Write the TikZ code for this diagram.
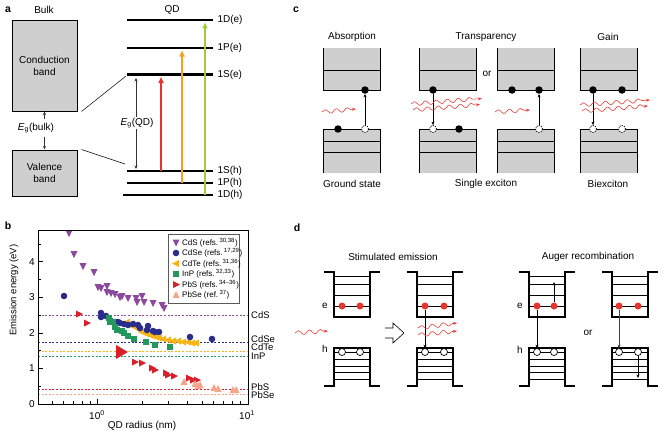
\documentclass[tikz,border=0pt]{standalone}
\usepackage{fontspec}
\setmainfont{Liberation Sans}
\usepackage{tikz}
\usetikzlibrary{arrows.meta}
\usetikzlibrary{decorations.pathmorphing}
\definecolor{bandgray}{HTML}{CFCFCF}
\definecolor{redarr}{HTML}{E8322B}
\definecolor{orangearr}{HTML}{F4A020}
\definecolor{greenarr}{HTML}{A2CC3A}
\definecolor{colCdS}{HTML}{8B4A9E}
\definecolor{colCdSe}{HTML}{2A2C8C}
\definecolor{colCdTe}{HTML}{F6B417}
\definecolor{colInP}{HTML}{23985A}
\definecolor{colPbS}{HTML}{D8202A}
\definecolor{colPbSe}{HTML}{F4A58A}
\definecolor{photonred}{HTML}{E8403A}
\definecolor{dotred}{HTML}{E5352C}

\tikzset{
  panel/.style={font=\bfseries\fontsize{10.5}{12}\selectfont},
  bandbox/.style={draw=black, fill=bandgray, line width=1pt, align=center, inner sep=0pt},
  level/.style={line width=2.4pt},
  gaparrow/.style={black!80, line width=0.5pt, -{Stealth[length=3.5pt,width=3pt]}},
  excite/.style={line width=1.6pt, -{Triangle[length=6pt,width=5pt]}},
  photon/.style={photonred, line width=0.6pt, decorate,
    decoration={snake, amplitude=2pt, segment length=11pt, post length=4pt},
    -{Stealth[length=4pt,width=3pt]}},
  elec/.style={circle, fill=black, inner sep=0pt, minimum size=7.5pt},
  hole/.style={circle, draw=black, dash pattern=on 1.2pt off 1pt, fill=white, line width=0.7pt, inner sep=0pt, minimum size=7pt},
  jump/.style={line width=0.5pt, -{Stealth[length=3.5pt,width=3pt]}},
  relec/.style={circle, fill=dotred, inner sep=0pt, minimum size=7pt},
  rhole/.style={circle, draw=black, fill=white, line width=0.7pt, inner sep=0pt, minimum size=7pt},
  refline/.style={dash pattern=on 2pt off 1.6pt, line width=0.7pt},
  reflabel/.style={anchor=west, inner sep=0pt, font=\fontsize{9.5}{11}\selectfont},
  well/.style={line width=1.1pt},
  sub/.style={line width=0.7pt},
  legtext/.style={anchor=west, inner sep=0pt, font=\fontsize{8}{9}\selectfont},
}

\begin{document}
\begin{tikzpicture}[x=1pt, y=-1pt, font=\fontsize{10}{12}\selectfont]
\useasboundingbox (0,0) rectangle (668,436);

% a: bulk vs QD levels
\node[panel] (pa) at (8,10) {a};
\node (bulk) at (44,10) {Bulk};
\node (qd) at (172,10) {QD};
\node[bandbox, minimum width=65pt, minimum height=90pt] (cb) at (44.5,66) {Conduction\\band};
\node[bandbox, minimum width=65pt, minimum height=46pt] (vb) at (44.5,173) {Valence\\band};
\node (egb) at (36,128) {\textit{E}\textsubscript{g}(bulk)};
\draw[gaparrow] (egb.north -| cb.south) -- (cb.south);
\draw[gaparrow] (egb.south -| vb.north) -- (vb.north);

\draw[level] (127,20) -- (213,20) node[right] (l1De) {1D(e)};
\draw[level] (127,48) -- (213,48) node[right] (l1Pe) {1P(e)};
\draw[level] (127,74.5) -- (213,74.5) node[right] (l1Se) {1S(e)};
\draw[level] (127,171) -- (213,171) node[right] (l1Sh) {1S(h)};
\draw[level] (127,183) -- (213,183) node[right] (l1Ph) {1P(h)};
\draw[level] (123,195) -- (213,195) node[right] (l1Dh) {1D(h)};

\draw[line width=0.5pt] ([xshift=4pt]cb.south east) -- (126,76);
\draw[line width=0.5pt] ([xshift=4pt]vb.north east) -- (125,164);

\coordinate (gtop) at (136,78);
\coordinate (gbot) at (136,169);
\draw[gaparrow, {Stealth[length=3.5pt,width=3pt]}-{Stealth[length=3.5pt,width=3pt]}] (gtop) -- (gbot);
\node[fill=white, inner sep=1pt] (egq) at (137,123) {\textit{E}\textsubscript{g}(QD)};

\coordinate (r1) at (161,171);   \coordinate (r2) at (161,77);
\coordinate (o1) at (182,183);   \coordinate (o2) at (182,50.5);
\coordinate (g1) at (205,195);   \coordinate (g2) at (205,22.5);
\draw[excite, redarr] (r1) -- (r2);
\draw[excite, orangearr] (o1) -- (o2);
\draw[excite, greenarr] (g1) -- (g2);

% c: absorption, transparency, gain
\node[panel] (pc) at (296,10) {c};
\foreach \L in {323,419,497,580} {
  \fill[bandgray] (\L,48) rectangle ++(57,42);
  \fill[bandgray] (\L,129) rectangle ++(57,44);
  \draw[line width=1pt] (\L,48) -- (\L,90) -- ++(57,0) -- ++(0,-42);
  \draw[line width=1pt] (\L,70) -- ++(57,0);
  \draw[line width=1pt] (\L,173) -- (\L,129) -- ++(57,0) -- ++(0,44);
  \draw[line width=1pt] (\L,141) -- ++(57,0) (\L,152) -- ++(57,0);
}
\node (tabs) at (352,37) {Absorption};
\node (ttra) at (486,37) {Transparency};
\node (tgain) at (608,37) {Gain};
\node (tor) at (487,74) {or};
\node (gs) at (352,184) {Ground state};
\node (sx) at (486,184) {Single exciton};
\node (bx) at (608,184) {Biexciton};

\node[elec] (ae) at (365,90) {};
\node[hole] (ah) at (365,129) {};
\node[elec] (av) at (338,129) {};
\draw[jump] (ah) -- (ae);
\draw[photon] (322,112) -- (356,109);

\node[elec] (te) at (433,90) {};
\node[hole] (th) at (433,129) {};
\node[elec] (tv) at (459,129) {};
\draw[jump] (te) -- (th);
\draw[photon] (411,104) -- (482,98.5);
\draw[photon] (413,110) -- (480,104.5);

\node[elec] (ue1) at (512,90) {};
\node[elec] (ue2) at (539,90) {};
\node[hole] (uh) at (539,129) {};
\draw[jump] (uh) -- (ue2);
\draw[photon] (495,112) -- (530,110);

\node[elec] (ge1) at (593,90) {};
\node[elec] (ge2) at (622,90) {};
\node[hole] (gh1) at (593,129) {};
\node[hole] (gh2) at (622,129) {};
\draw[jump] (ge1) -- (gh1);
\draw[photon] (580,105) -- (650,100);
\draw[photon] (582,111) -- (648,106);

% b: emission energy vs radius
\node[panel] (pb) at (8,226) {b};
\draw[colCdS, refline] (38,315) -- (248,315);
\draw[colCdSe, refline] (38,342) -- (248,342);
\draw[colCdTe, refline] (38,351) -- (248,351);
\draw[colInP, refline] (38,356) -- (248,356);
\draw[colPbS, refline] (38,389) -- (248,389);
\draw[colPbSe, refline] (38,394) -- (248,394);
\node[reflabel] (nCdS) at (251,315) {CdS};
\node[reflabel] (nCdSe) at (251,339) {CdSe};
\node[reflabel] (nCdTe) at (251,347.5) {CdTe};
\node[reflabel] (nInP) at (251,356) {InP};
\node[reflabel] (nPbS) at (251,387) {PbS};
\node[reflabel] (nPbSe) at (251,395.5) {PbSe};

\foreach \x/\y in {69/233,74/254,83/266,94/272,98/287,101/288,107/286,107/292,111/293,115/294,120/297,122/296,128/298,136/298,137/302,142/296,144/302,153/303,162/305,164/308}
  \fill[colCdS] (\x-3.5,\y-3) -- (\x+3.5,\y-3) -- (\x,\y+4) -- cycle;
\foreach \x/\y in {127/322,130/325,132/324,135/327,137/328,140/330,142/332,145/333,147/334,150/335,153/336,156/337,159/338,163/339,168/340,173/341,178/341,183/342,188/342,192/343,196/343}
  \fill[colCdTe] (\x+3,\y-3.5) -- (\x+3,\y+3.5) -- (\x-4,\y) -- cycle;
\foreach \x/\y in {64/296,101/313,101/317,106/316,110/320,115/322,118/322,120/323,124/324,128/325,133/324,138/325,140/328,147/330,148/326,153/331,155/332,159/332,190/337,212/339}
  \fill[colCdSe] (\x,\y) circle (3.3);
\foreach \x/\y in {109/318,110/322,113/322,115/327,117/330,122/331,124/333,128/336,134/339,146/342,155/345,170/347}
  \fill[colInP] (\x-3,\y-3) rectangle (\x+3,\y+3);
\foreach \x/\y in {79/314,87/323,135/362,142/363,152/368,155/370,166/373,168/375,174/376,189/378,193/380,197/380}
  \fill[colPbS] (\x-3,\y-3.5) -- (\x-3,\y+3.5) -- (\x+4,\y) -- cycle;
\fill[colPbS] (116,345) -- (116,359) -- (128,352) -- cycle;
\foreach \x/\y in {184/382,195/384,198/386,200/385,214/388,218/389,233/390,236/390}
  \fill[colPbSe] (\x-3.5,\y+3) -- (\x+3.5,\y+3) -- (\x,\y-4) -- cycle;

\draw[line width=0.8pt] (38,230) rectangle (248,404);
\foreach \r in {0.5,0.6,0.7,0.8,0.9,2,3,4,5,6,7,8,9}
  \draw[line width=0.6pt] ({97+150*log10(\r)},404) -- ++(0,-3);
\draw[line width=0.6pt] (97,404) -- ++(0,-5);
\foreach \e in {0,...,4} {
  \draw[line width=0.6pt] (38,{404-35.6*\e}) -- ++(5,0);
  \node[anchor=east, inner sep=1pt] (ytick\e) at (36,{404-35.6*\e}) {\e};
}
\foreach \e in {0.5,1.5,2.5,3.5,4.5}
  \draw[line width=0.6pt] (38,{404-35.6*\e}) -- ++(3,0);
\node (xt0) at (97,415) {10\textsuperscript{0}};
\node (xt1) at (247,415) {10\textsuperscript{1}};
\node[rotate=90, font=\fontsize{9.5}{11}\selectfont] (ylab) at (14,290) {Emission energy (eV)};
\node (xlab) at (142,426) {QD radius (nm)};

% legend
\draw[draw=black!65, line width=1pt, fill=white] (168,234) rectangle (239,303);
\fill[colCdS] (172.5,239.5) -- (179.5,239.5) -- (176,246.5) -- cycle;
\fill[colCdSe] (176,253) circle (3.3);
\fill[colCdTe] (179,260) -- (179,267) -- (172,263.5) -- cycle;
\fill[colInP] (173,271) rectangle (179,277);
\fill[colPbS] (173,281) -- (173,288) -- (180,284.5) -- cycle;
\fill[colPbSe] (172.5,298) -- (179.5,298) -- (176,291) -- cycle;
\node[legtext] (lgCdS) at (182,242.5) {CdS (refs.\,\textsuperscript{30,38})};
\node[legtext] (lgCdSe) at (182,253) {CdSe (refs.\,\textsuperscript{17,29})};
\node[legtext] (lgCdTe) at (182,263.5) {CdTe (refs.\,\textsuperscript{31,36})};
\node[legtext] (lgInP) at (182,274) {InP (refs.\,\textsuperscript{32,33})};
\node[legtext] (lgPbS) at (182,284.5) {PbS (refs.\,\textsuperscript{34--36})};
\node[legtext] (lgPbSe) at (182,295) {PbSe (ref.\,\textsuperscript{37})};

% d: stimulated emission and Auger
\node[panel] (pd) at (297,228) {d};
\node (tstim) at (393,257) {Stimulated emission};
\node (taug) at (588,257) {Auger recombination};
\foreach \w in {334,417,529,612} {
  \draw[well] (\w-10,272) -- (\w,272) -- (\w,317) -- (\w+36,317) -- (\w+36,272) -- (\w+46,272);
  \foreach \yy in {276,284,295,306} \draw[sub] (\w,\yy) -- (\w+36,\yy);
  \draw[well] (\w-10,386) -- (\w,386) -- (\w,348) -- (\w+36,348) -- (\w+36,386) -- (\w+46,386);
  \foreach \yy in {352,359,366,372,379} \draw[sub] (\w,\yy) -- (\w+36,\yy);
}
\node (le1) at (325,306) {e};
\node (lh1) at (325,349) {h};
\node (le3) at (520,306) {e};
\node (lh3) at (520,350) {h};
\node (dor) at (588,333) {or};

\foreach \n/\x in {1a/342,1b/360,2a/425,2b/444,3a/537,3b/554,4a/619,4b/638} {
  \node[relec] (de\n) at (\x,306) {};
  \node[rhole] (dh\n) at (\x,352) {};
}
\draw[photon] (295,333) -- (328,331);
\draw[line width=0.6pt, line join=miter] (385,328) -- (393,328) -- (393,323) -- (404,333) -- (393,343) -- (393,338) -- (385,338);
\draw[jump] (de2a) -- (dh2a);
\draw[photon] (418,328) -- (457,323);
\draw[photon] (418,335) -- (457,331);

\coordinate (up3) at (554,282);
\coordinate (dn4) at (638,378);
\draw[jump] (de3a) -- (dh3a);
\draw[jump] (de3b) -- (up3);
\draw[jump, black!75] (de4a) -- (dh4a);
\draw[jump] (dh4b) -- (dn4);
\end{tikzpicture}
\end{document}
